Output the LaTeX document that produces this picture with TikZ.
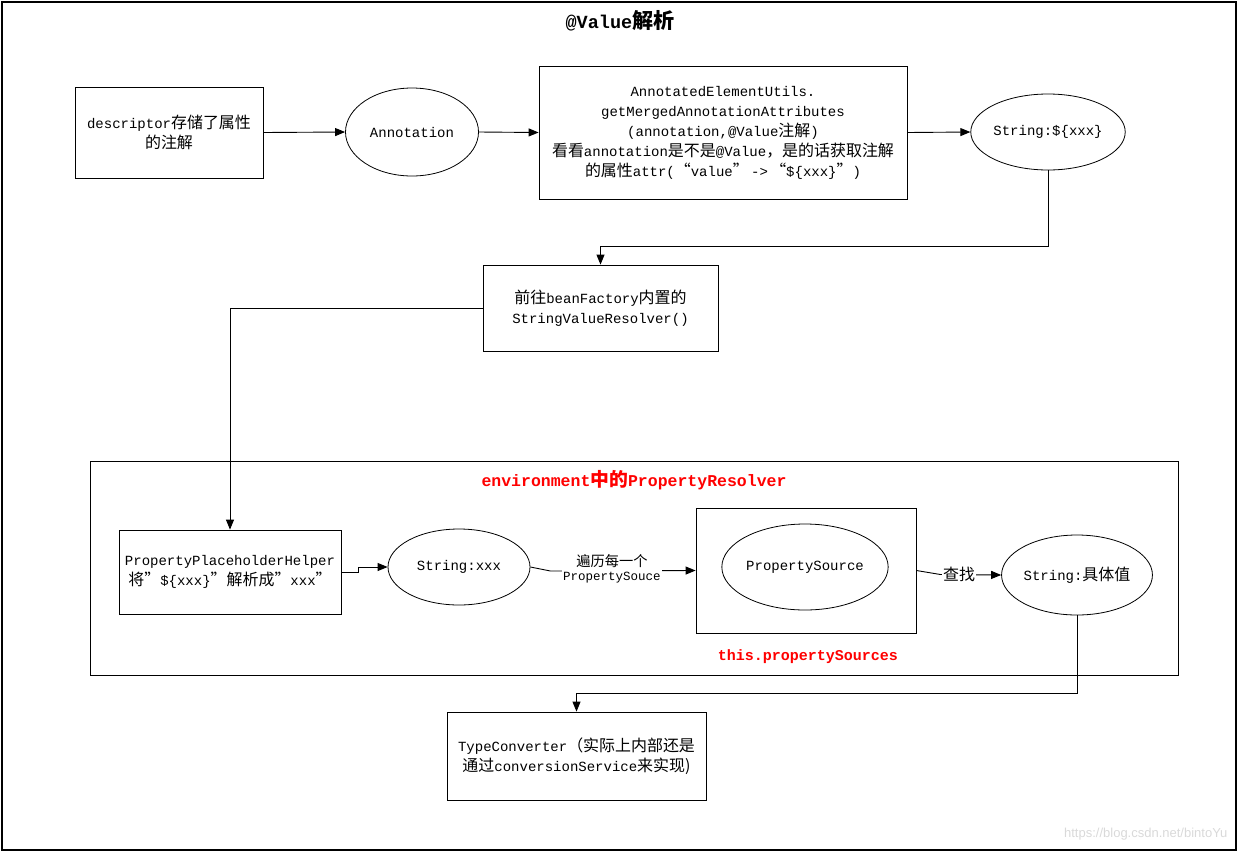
\documentclass[tikz,border=0pt]{standalone}
\usepackage{fontspec}
\setmainfont{Liberation Mono}
\newfontfamily\cjkf{Noto Sans CJK SC}[Scale=1.14]
\newfontfamily\wmfont{Liberation Sans}
\usetikzlibrary{arrows.meta,shapes.geometric}
\newcommand\zh[1]{{\cjkf #1}}
\begin{document}
\begin{tikzpicture}[x=1pt,y=-1pt,
  txt/.style={font=\fontsize{14}{20}\selectfont, align=center},
  box/.style={txt, draw, rectangle, line width=0.8pt, inner sep=0pt},
  ell/.style={txt, draw, ellipse, line width=0.8pt, inner sep=0pt},
  arr/.style={-{Triangle[length=10pt,width=8pt]}, line width=0.9pt},
  lab/.style={font=\fontsize{12.5}{14}\selectfont, align=center, fill=white, inner sep=1pt},
  redlab/.style={font=\fontsize{15}{18}\selectfont\bfseries, text=red}
]
\useasboundingbox (0,0) rectangle (1239,852);
\draw[line width=1.3pt] (2,2) rectangle (1236,850);
\node[font=\fontsize{18.5}{22}\selectfont\bfseries] (title) at (620,21) {@Value\zh{解析}};

\node[box, minimum width=188pt, minimum height=91pt] (box1) at (169,132.5)
  {descriptor\zh{存储了属性}\\\zh{的注解}};
\node[ell, minimum width=133pt, minimum height=88pt] (ann) at (412,132) {Annotation};
\node[box, minimum width=368pt, minimum height=133pt] (box2) at (723,132.5)
  {AnnotatedElementUtils.\\getMergedAnnotationAttributes\\(annotation,@Value\zh{注解})\\
   \zh{看看}annotation\zh{是不是}@Value\zh{，是的话获取注解}\\
   \zh{的属性}attr(\zh{“}value\zh{”}\,->\,\zh{“}\$\{xxx\}\zh{”})};
\node[ell, minimum width=154pt, minimum height=76pt] (s1) at (1048,132) {String:\$\{xxx\}};
\node[box, minimum width=235pt, minimum height=86pt] (box3) at (600.5,308)
  {\zh{前往}beanFactory\zh{内置的}\\StringValueResolver()};

\node[draw, line width=0.8pt, minimum width=1088pt, minimum height=214pt, inner sep=0pt] (env) at (634,568) {};
\node[redlab, font=\fontsize{16.5}{20}\selectfont\bfseries] (envt) at (634,480) {environment\zh{中的}PropertyResolver};

\node[box, minimum width=222pt, minimum height=84pt] (pph) at (230,572)
  {PropertyPlaceholderHelper\\\zh{将”}\$\{xxx\}\zh{”解析成”}xxx\zh{”}};
\node[ell, minimum width=142pt, minimum height=76pt] (s2) at (459,567) {String:xxx};
\node[box, minimum width=220pt, minimum height=125pt] (psbox) at (806,570.5) {};
\node[ell, minimum width=154pt, minimum height=86pt] (ps) at (805,567) {PropertySource};
\node[redlab] (pst) at (808,657) {this.propertySources};
\node[ell, minimum width=150pt, minimum height=80pt] (s3) at (1077,575) {String:\zh{具体值}};
\node[box, minimum width=259pt, minimum height=88pt] (tc) at (576.5,756)
  {TypeConverter\zh{（实际上内部还是}\\\zh{通过}conversionService\zh{来实现)}};

\draw[arr] (box1.east) -- (ann.west);
\draw[arr] (ann.east) -- (box2.west);
\draw[arr] (box2.east) -- (s1.west);
\draw[arr] (s1.south) -- ++(0,76) -| (box3.north);
\draw[arr] (box3.west) -| (pph.north);
\draw[arr] (pph.east) -- ++(17,0) |- (s2.west);
\draw[arr] (s2.east) -- ++(20,4) -- (psbox.west);
\draw[arr] (psbox.east) -- ++(24,4) -- (s3.west);
\draw[arr] (s3.south) -- ++(0,78) -| (tc.north);

\node[lab] (l1) at (612,569) {\zh{遍历每一个}\\PropertySouce};
\node[lab, font=\fontsize{14}{16}\selectfont] (l2) at (959,574) {\zh{查找}};

\node[font=\wmfont\fontsize{13}{15}\selectfont, text=gray!30, anchor=east] (wm) at (1231,834) {https://blog.csdn.net/bintoYu};
\end{tikzpicture}
\end{document}
